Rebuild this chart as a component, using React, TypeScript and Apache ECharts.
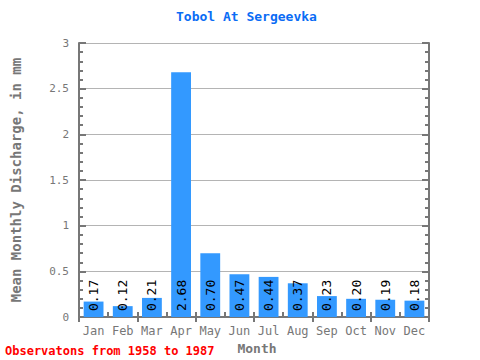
import React, { useEffect, useRef } from "react";
import * as echarts from "echarts";

const months = ["Jan", "Feb", "Mar", "Apr", "May", "Jun", "Jul", "Aug", "Sep", "Oct", "Nov", "Dec"];
const discharge = [0.17, 0.12, 0.21, 2.68, 0.70, 0.47, 0.44, 0.37, 0.23, 0.20, 0.19, 0.18];
const titleText = "Tobol At Sergeevka";
const footerText = "Observatons from 1958 to 1987";

const FONT = "DejaVu Sans Mono";
const AXIS_COLOR = "#777777";

export default function App() {
  const ref = useRef<HTMLDivElement>(null);
  useEffect(() => {
    if (!ref.current) return;
    const chart = echarts.init(ref.current, undefined, { renderer: "svg" });
    const axisLine = { show: true, lineStyle: { color: AXIS_COLOR, width: 2 } };
    chart.setOption({
      animation: false,
      backgroundColor: "#ffffff",
      title: {
        text: titleText,
        left: 171,
        top: 5,
        textStyle: { color: "#0a6cf5", fontFamily: FONT, fontWeight: "bold", fontSize: 13 },
      },
      graphic: [
        {
          type: "text",
          left: 5,
          top: 345,
          style: { text: footerText, fill: "#ff0000", font: `bold 12px "${FONT}"` },
        },
      ],
      grid: { left: 79, right: 51, top: 43, bottom: 39, containLabel: false },
      xAxis: [
        {
          type: "category",
          data: months,
          position: "bottom",
          axisLine,
          axisTick: { show: true, inside: true, length: 5, lineStyle: { color: AXIS_COLOR, width: 2 } },
          axisLabel: { color: AXIS_COLOR, fontFamily: FONT, fontSize: 12, margin: 8 },
          name: "Month",
          nameLocation: "middle",
          nameGap: 23,
          nameTextStyle: { color: AXIS_COLOR, fontFamily: FONT, fontWeight: "bold", fontSize: 13, padding: [0, 0, 0, 6] },
        },
        {
          type: "category",
          data: months,
          position: "top",
          axisLine,
          axisTick: { show: true, inside: true, length: 5, lineStyle: { color: AXIS_COLOR, width: 2 } },
          axisLabel: { show: false },
        },
      ],
      yAxis: [
        {
          type: "value",
          min: 0,
          max: 3,
          interval: 0.5,
          position: "left",
          axisLine,
          axisTick: { show: true, inside: true, length: 7, lineStyle: { color: AXIS_COLOR, width: 2 } },
          minorTick: { show: true, splitNumber: 5, length: 4, lineStyle: { color: AXIS_COLOR, width: 2 } },
          axisLabel: {
            color: AXIS_COLOR,
            fontFamily: FONT,
            fontSize: 11,
            margin: 10,
            formatter: (v: number) => String(v),
          },
          splitLine: { show: true, lineStyle: { color: "#b4b4b4", width: 1 } },
          name: "Mean Monthly Discharge, in mm",
          nameLocation: "middle",
          nameGap: 56,
          nameTextStyle: { color: AXIS_COLOR, fontFamily: FONT, fontWeight: "bold", fontSize: 14 },
        },
        {
          type: "value",
          min: 0,
          max: 3,
          interval: 0.5,
          position: "right",
          axisLine,
          axisTick: { show: true, inside: true, length: 7, lineStyle: { color: AXIS_COLOR, width: 2 } },
          minorTick: { show: true, splitNumber: 5, length: 4, lineStyle: { color: AXIS_COLOR, width: 2 } },
          axisLabel: { show: false },
          splitLine: { show: false },
        },
      ],
      series: [
        {
          type: "bar",
          data: discharge,
          barWidth: "68%",
          itemStyle: { color: "#3399ff" },
          label: {
            show: true,
            position: "insideBottom",
            rotate: 90,
            align: "left",
            verticalAlign: "middle",
            distance: 6,
            color: "#000000",
            fontFamily: FONT,
            fontSize: 13,
            formatter: (p: any) => p.value.toFixed(2),
          },
        },
      ],
    });
    return () => chart.dispose();
  }, []);
  return <div ref={ref} style={{ width: 480, height: 360, position: "absolute", left: 0, top: 0 }} />;
}
